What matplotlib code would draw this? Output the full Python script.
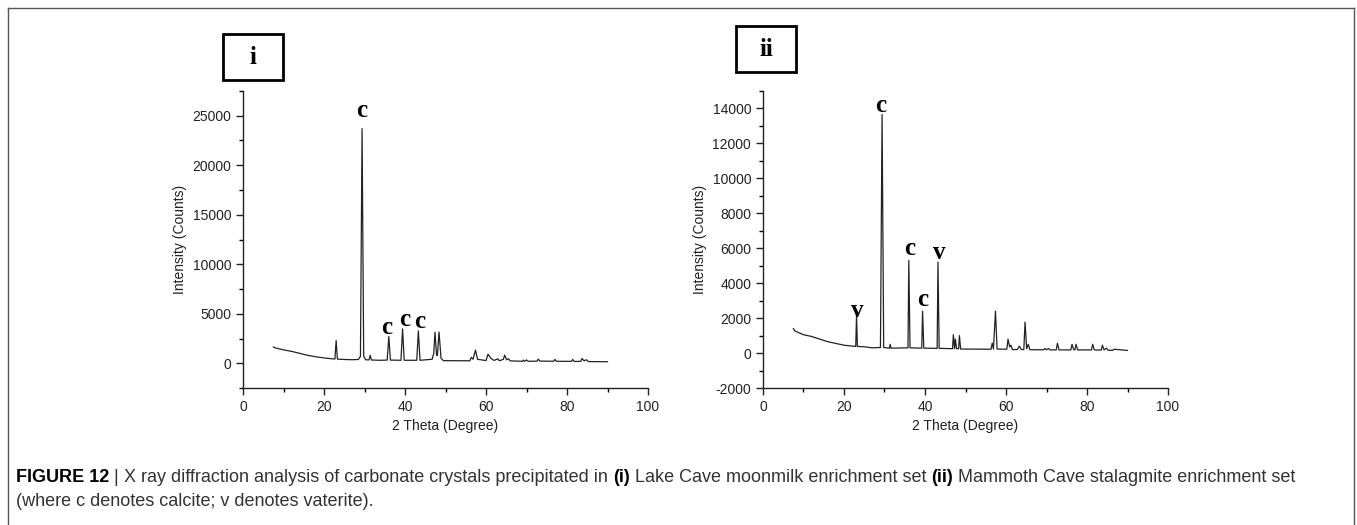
import matplotlib.pyplot as plt
from matplotlib.patches import Rectangle
from matplotlib.lines import Line2D
from matplotlib.ticker import MultipleLocator

plt.rcParams['font.family'] = ['Liberation Sans', 'DejaVu Sans']
plt.rcParams['axes.unicode_minus'] = False

# ---- panel i : Lake Cave moonmilk (2theta, counts) ----
x_i = [7.5, 8, 9, 10, 12, 14, 16, 18, 20, 22, 22.7, 23.0, 23.3, 25, 27, 28.5, 29.0, 29.4, 29.8, 30.3,
       31.1, 31.4, 31.7, 34, 35.6, 36.0, 36.4, 39.0, 39.4, 39.8, 42.9, 43.3, 43.7, 46.7, 47.1, 47.4, 47.8,
       48.0, 48.4, 48.9, 49.5, 56.0, 56.4, 56.8, 57.4, 57.9, 60.0, 60.5, 61.2, 62.0, 62.9, 63.3, 64.3,
       64.6, 65.1, 65.5, 66.0, 69.0, 69.2, 69.5, 70.0, 70.4, 72.6, 72.9, 73.3, 76.7, 77.0, 77.4, 81.1,
       81.4, 81.8, 83.4, 83.7, 84.2, 84.8, 85.3, 90]
y_i = [1650, 1550, 1450, 1350, 1200, 1000, 800, 650, 540, 450, 430, 2300, 420, 380, 360, 380, 700, 23700, 700, 350,
       340, 800, 330, 300, 320, 2700, 320, 300, 3470, 300, 300, 3270, 300, 400, 1000, 3130, 800,
       800, 3160, 500, 260, 250, 600, 400, 1330, 400, 270, 920, 500, 280, 450, 250, 400,
       820, 350, 450, 240, 200, 320, 200, 330, 200, 210, 420, 220, 200, 380, 200, 190,
       380, 180, 190, 480, 250, 350, 170, 150]

# ---- panel ii : Mammoth Cave stalagmite ----
x_ii = [7.5, 7.8, 8, 9, 10, 12, 14, 16, 18, 20, 22, 22.9, 23.1, 23.3, 25, 27, 29.0, 29.4, 29.8, 31.2,
        31.4, 31.6, 35.8, 36.0, 36.3, 39.2, 39.4, 39.7, 43.0, 43.2, 43.5, 46.8, 47.0, 47.3, 47.5, 47.8,
        48.3, 48.5, 48.8, 56.3, 56.6, 56.9, 57.4, 57.8, 60.2, 60.5, 60.9, 61.2, 61.6, 62.8, 63.3, 63.8,
        64.4, 64.7, 65.1, 65.5, 65.9, 69.3, 69.6, 70.0, 70.5, 70.9, 72.4, 72.7, 73.1, 76.0, 76.3, 76.7,
        77.0, 77.3, 77.7, 81.1, 81.4, 81.8, 83.5, 83.8, 84.2, 84.8, 85.2, 86.4, 86.7, 90]
y_ii = [1400, 1300, 1250, 1150, 1050, 950, 800, 650, 550, 450, 400, 380, 2200, 380, 360, 300, 320, 13650, 320, 280,
        500, 280, 300, 5300, 300, 280, 2400, 280, 270, 5200, 270, 250, 1050, 250, 800, 250,
        250, 1000, 230, 220, 570, 230, 2400, 230, 220, 800, 350, 450, 200, 200, 400, 200,
        200, 1770, 250, 500, 190, 190, 260, 190, 260, 180, 180, 560, 180, 180, 500, 200,
        180, 500, 180, 180, 500, 180, 170, 450, 180, 280, 160, 160, 220, 150]

# peak labels (letter, 2theta, y)
lab_i = ['c', 'c', 'c', 'c']
lab_i_x = [29.4, 35.5, 40.0, 43.7]
lab_i_y = [25500, 3650, 4450, 4200]
lab_ii = ['c', 'c', 'v', 'v', 'c']
lab_ii_x = [29.1, 36.3, 43.5, 23.2, 39.5]
lab_ii_y = [14150, 6000, 5750, 2450, 3050]

W, H = 1357, 525
fig = plt.figure(figsize=(W / 100, H / 100), dpi=100)


def fx(px):
    return px / W


def fy(py):
    return 1 - py / H


def setup(ax, ylim, ymaj, ymin):
    ax.set_xlim(0, 100)
    ax.set_ylim(*ylim)
    ax.spines['top'].set_visible(False)
    ax.spines['right'].set_visible(False)
    ax.xaxis.set_major_locator(MultipleLocator(20))
    ax.xaxis.set_minor_locator(MultipleLocator(10))
    ax.yaxis.set_major_locator(MultipleLocator(ymaj))
    ax.yaxis.set_minor_locator(MultipleLocator(ymin))
    ax.tick_params(which='major', direction='out', length=5, width=1, labelsize=10, colors='#222222')
    ax.tick_params(which='minor', direction='out', length=3, width=1)
    ax.set_xlabel('2 Theta (Degree)', fontsize=10, color='#222222')
    ax.set_ylabel('Intensity (Counts)', fontsize=10, color='#222222')
    for s in ['left', 'bottom']:
        ax.spines[s].set_linewidth(1)
        ax.spines[s].set_color('#222222')


ax1 = fig.add_axes([fx(243), fy(388), fx(405), (388 - 91) / H])
ax1.plot(x_i, y_i, color='#222222', lw=0.9)
setup(ax1, (-2500, 27500), 5000, 2500)
for t, x, y in zip(lab_i, lab_i_x, lab_i_y):
    ax1.text(x, y, t, ha='center', va='center', fontsize=18, fontweight='bold', family='Liberation Serif')

ax2 = fig.add_axes([fx(763), fy(388), fx(405), (388 - 91) / H])
ax2.plot(x_ii, y_ii, color='#222222', lw=0.9)
setup(ax2, (-2000, 15000), 2000, 1000)
for t, x, y in zip(lab_ii, lab_ii_x, lab_ii_y):
    ax2.text(x, y, t, ha='center', va='center', fontsize=18, fontweight='bold', family='Liberation Serif')

# panel boxes
for x0, y0, txt in [(223, 34, 'i'), (736, 26, 'ii')]:
    fig.patches.append(Rectangle((fx(x0), fy(y0 + 46)), fx(60), 46 / H, transform=fig.transFigure,
                                 fill=False, lw=2, ec='black'))
    fig.text(fx(x0 + 30), fy(y0 + 23), txt, ha='center', va='center', fontsize=18,
             fontweight='bold', family='Liberation Serif')

# outer frame (open at the bottom)
frame = dict(transform=fig.transFigure, color='#555555', lw=1)
fig.lines.append(Line2D([fx(8), fx(8)], [0, fy(8)], **frame))
fig.lines.append(Line2D([fx(8), fx(1354)], [fy(8), fy(8)], **frame))
fig.lines.append(Line2D([fx(1354), fx(1354)], [0, fy(8)], **frame))

# caption
cap_y = fy(478)
t = fig.text(fx(16), cap_y, 'FIGURE 12', fontsize=13, fontweight='bold', va='center')
r = fig.canvas.get_renderer()
parts = [(' | ', 'normal'),
         ('X ray diffraction analysis of carbonate crystals precipitated in ', 'normal'),
         ('(i)', 'bold'), (' Lake Cave moonmilk enrichment set ', 'normal'),
         ('(ii)', 'bold'), (' Mammoth Cave stalagmite enrichment set', 'normal')]
xpos = t.get_window_extent(r).x1
for s, w in parts:
    tt = fig.text(xpos / W, cap_y, s, fontsize=13, fontweight=w, va='center',
                  color='#333333' if w == 'normal' else 'black')
    xpos = tt.get_window_extent(r).x1
fig.text(fx(16), fy(501), '(where c denotes calcite; v denotes vaterite).', fontsize=13,
         va='center', color='#333333')

fig.savefig('out.png', dpi=100)
